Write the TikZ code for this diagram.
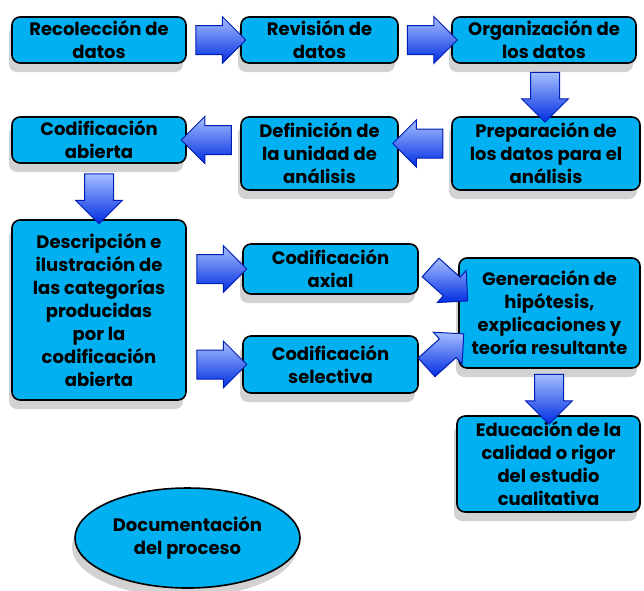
\documentclass[tikz,border=0pt]{standalone}
\usepackage{fontspec}
\setmainfont{Poppins}
\usepackage{tikz}
\usepackage{xcolor}
\usetikzlibrary{shapes.geometric, shapes.arrows, shadows, calc}

\definecolor{boxcyan}{RGB}{0,176,240}
\definecolor{arrowdark}{RGB}{0,45,225}
\definecolor{arrowlight}{RGB}{165,190,255}
\definecolor{arrowline}{RGB}{0,30,180}

\tikzset{
  paso/.style={draw=black, line width=1.6pt, rounded corners=8pt, fill=boxcyan,
    align=center, inner sep=0pt, font=\fontsize{18}{23}\selectfont\bfseries,
    drop shadow={opacity=0.25, shadow xshift=-3pt, shadow yshift=-9pt, fill=black!70}},
  elipse/.style={paso, ellipse, rounded corners=0pt},
  flecha/.style={single arrow, draw=arrowline, line width=1pt, top color=arrowlight,
    bottom color=arrowdark, minimum height=50pt, inner xsep=0pt, inner ysep=14pt,
    single arrow head extend=9pt}
}

\begin{document}
\begin{tikzpicture}[x=1pt,y=-1pt]
\useasboundingbox (0,0) rectangle (644,590);

\node[paso, minimum width=174pt, minimum height=46pt] (recol) at (99,40) {Recolección de\\datos};
\node[paso, minimum width=157pt, minimum height=46pt] (revis) at (319.5,40) {Revisión de\\datos};
\node[paso, minimum width=184pt, minimum height=46pt] (organ) at (544,40) {Organización de\\los datos};
\node[paso, minimum width=188pt, minimum height=73pt] (prepa) at (546,153.5) {Preparación de\\los datos para el\\análisis};
\node[paso, minimum width=157pt, minimum height=73pt] (defin) at (319.5,153.5) {Definición de\\la unidad de\\análisis};
\node[paso, minimum width=174pt, minimum height=46pt] (codab) at (99,140) {Codificación\\abierta};
\node[paso, minimum width=174pt, minimum height=180pt] (descr) at (99,310) {Descripción e\\ilustración de\\las categorías\\producidas\\por la\\codificación\\abierta};
\node[paso, minimum width=175pt, minimum height=50pt] (axial) at (330.5,269) {Codificación\\axial};
\node[paso, minimum width=175pt, minimum height=57pt] (selec) at (330.5,364.5) {Codificación\\selectiva};
\node[paso, minimum width=181pt, minimum height=110pt] (gener) at (549.5,313) {Generación de\\hipótesis,\\explicaciones y\\teoría resultante};
\node[paso, minimum width=183pt, minimum height=96pt] (educa) at (548.5,464) {Educación de la\\calidad o rigor\\del estudio\\cualitativa};
\node[elipse, minimum width=225pt, minimum height=100pt] (docum) at (187.5,538) {Documentación\\del proceso};

\node[flecha] (f1) at ($(recol.east)!.5!(revis.west)$) {};
\node[flecha] (f2) at ($(revis.east)!.5!(organ.west)$) {};
\node[flecha, rotate=-90] (f3) at ($(organ.south)!.5!(prepa.north)$) {};
\node[flecha, rotate=180, yshift=-10pt] (f4) at ($(defin.east)!.5!(prepa.west)$) {};
\node[flecha, rotate=180] (f5) at ($(codab.east)!.5!(codab.east -| defin.west)$) {};
\node[flecha, rotate=-90] (f6) at ($(codab.south)!.5!(descr.north)$) {};
\node[flecha] (f7) at ($(axial.west)!.5!(axial.west -| descr.east)$) {};
\node[flecha] (f8) at ($(selec.west)!.5!(selec.west -| descr.east)$) {};
\node[flecha, rotate=-42, inner ysep=12pt] (f9) at ($(axial.east)!.5!(gener.west)+(6,-11)$) {};
\node[flecha, rotate=42, inner ysep=12pt] (f10) at ($(selec.east)!.5!(gener.west)+(2,16)$) {};
\node[flecha, rotate=-90] (f11) at ($(gener.south)!.5!(educa.north)$) {};
\end{tikzpicture}
\end{document}
